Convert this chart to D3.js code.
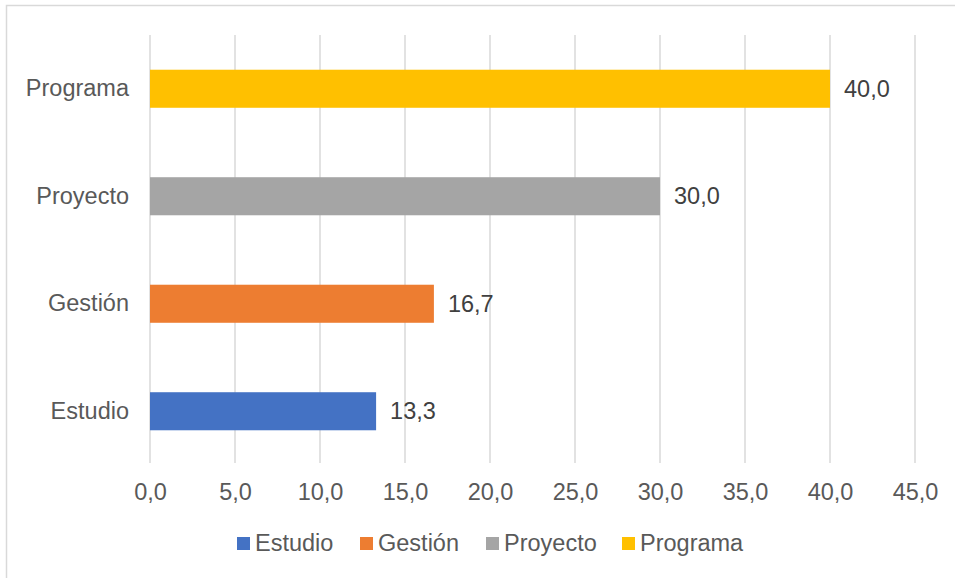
<!DOCTYPE html>
<html>
<head>
<meta charset="utf-8">
<script src="https://cdn.jsdelivr.net/npm/d3@7"></script>
<style>
    body { margin: 0; background: #fff; }
    svg { display: block; font-family: "Liberation Sans", Arial, sans-serif; }
</style>
</head>
<body>
<svg id="chart"></svg>
<script>
const categories = ['Estudio', 'Gestión', 'Proyecto', 'Programa'];
const values = [13.3, 16.7, 30.0, 40.0];
const colors = ['#4472C4', '#ED7D31', '#A5A5A5', '#FFC000'];
const ticks = [0, 5, 10, 15, 20, 25, 30, 35, 40, 45];

const width = 955;
const height = 578;
const plot = { left: 150, right: 915, top: 35, bottom: 465 };
const textColor = '#595959';
const gridColor = '#d9d9d9';
const fontSize = 23.5;

const fmt = (v) => d3.format('.1f')(v).replace('.', ',');

const data = categories.map((c, i) => ({ name: c, value: values[i], color: colors[i] }));

const svg = d3.select('#chart')
    .attr('width', width)
    .attr('height', height);

// chart area border (runs past the right and bottom edge)
svg.append('rect')
    .attr('x', 6.5)
    .attr('y', 5.5)
    .attr('width', width + 20)
    .attr('height', height + 20)
    .attr('fill', '#fff')
    .attr('stroke', gridColor)
    .attr('stroke-width', 1.5);

const xScale = d3.scaleLinear().domain([0, 45]).range([plot.left, plot.right]);
const yScale = d3.scaleBand()
    .domain(categories.slice().reverse())
    .range([plot.top, plot.bottom])
    .paddingInner(0.646)
    .paddingOuter(0.323);

// gridlines
svg.append('g')
    .selectAll('line')
    .data(ticks)
    .enter()
    .append('line')
    .attr('x1', xScale)
    .attr('x2', xScale)
    .attr('y1', plot.top)
    .attr('y2', plot.bottom - 2)
    .attr('stroke', gridColor)
    .attr('stroke-width', 1.5);

// x axis labels
const xAxis = d3.axisBottom(xScale).tickValues(ticks).tickFormat(fmt).tickSize(0).tickPadding(0);
const gx = svg.append('g')
    .attr('transform', `translate(0, 483)`)
    .call(xAxis);
gx.select('.domain').remove();
gx.selectAll('text')
    .attr('fill', textColor)
    .attr('font-size', fontSize)
    .attr('dy', '0.71em')
    .attr('font-family', null);

// y axis labels
const yAxis = d3.axisLeft(yScale).tickSize(0).tickPadding(0);
const gy = svg.append('g')
    .attr('transform', `translate(129, 0)`)
    .call(yAxis);
gy.select('.domain').remove();
gy.selectAll('text')
    .attr('fill', textColor)
    .attr('font-size', fontSize)
    .attr('font-family', null);

// bars
svg.append('g')
    .selectAll('rect')
    .data(data)
    .enter()
    .append('rect')
    .attr('x', xScale(0))
    .attr('y', (d) => yScale(d.name))
    .attr('width', (d) => xScale(d.value) - xScale(0))
    .attr('height', yScale.bandwidth())
    .attr('fill', (d) => d.color);

// value labels
svg.append('g')
    .selectAll('text')
    .data(data)
    .enter()
    .append('text')
    .attr('x', (d) => xScale(d.value) + 14)
    .attr('y', (d) => yScale(d.name) + yScale.bandwidth() / 2)
    .attr('dy', '0.35em')
    .attr('fill', '#404040')
    .attr('font-size', fontSize)
    .text((d) => fmt(d.value));

// legend
const legendX = [237, 360, 486, 622];
const legend = svg.append('g')
    .selectAll('g')
    .data(data)
    .enter()
    .append('g')
    .attr('transform', (d, i) => `translate(${legendX[i]}, 537)`);

legend.append('rect')
    .attr('width', 13)
    .attr('height', 13)
    .attr('fill', (d) => d.color);

legend.append('text')
    .attr('x', 18)
    .attr('y', 14)
    .attr('fill', textColor)
    .attr('font-size', fontSize)
    .text((d) => d.name);
</script>
</body>
</html>
